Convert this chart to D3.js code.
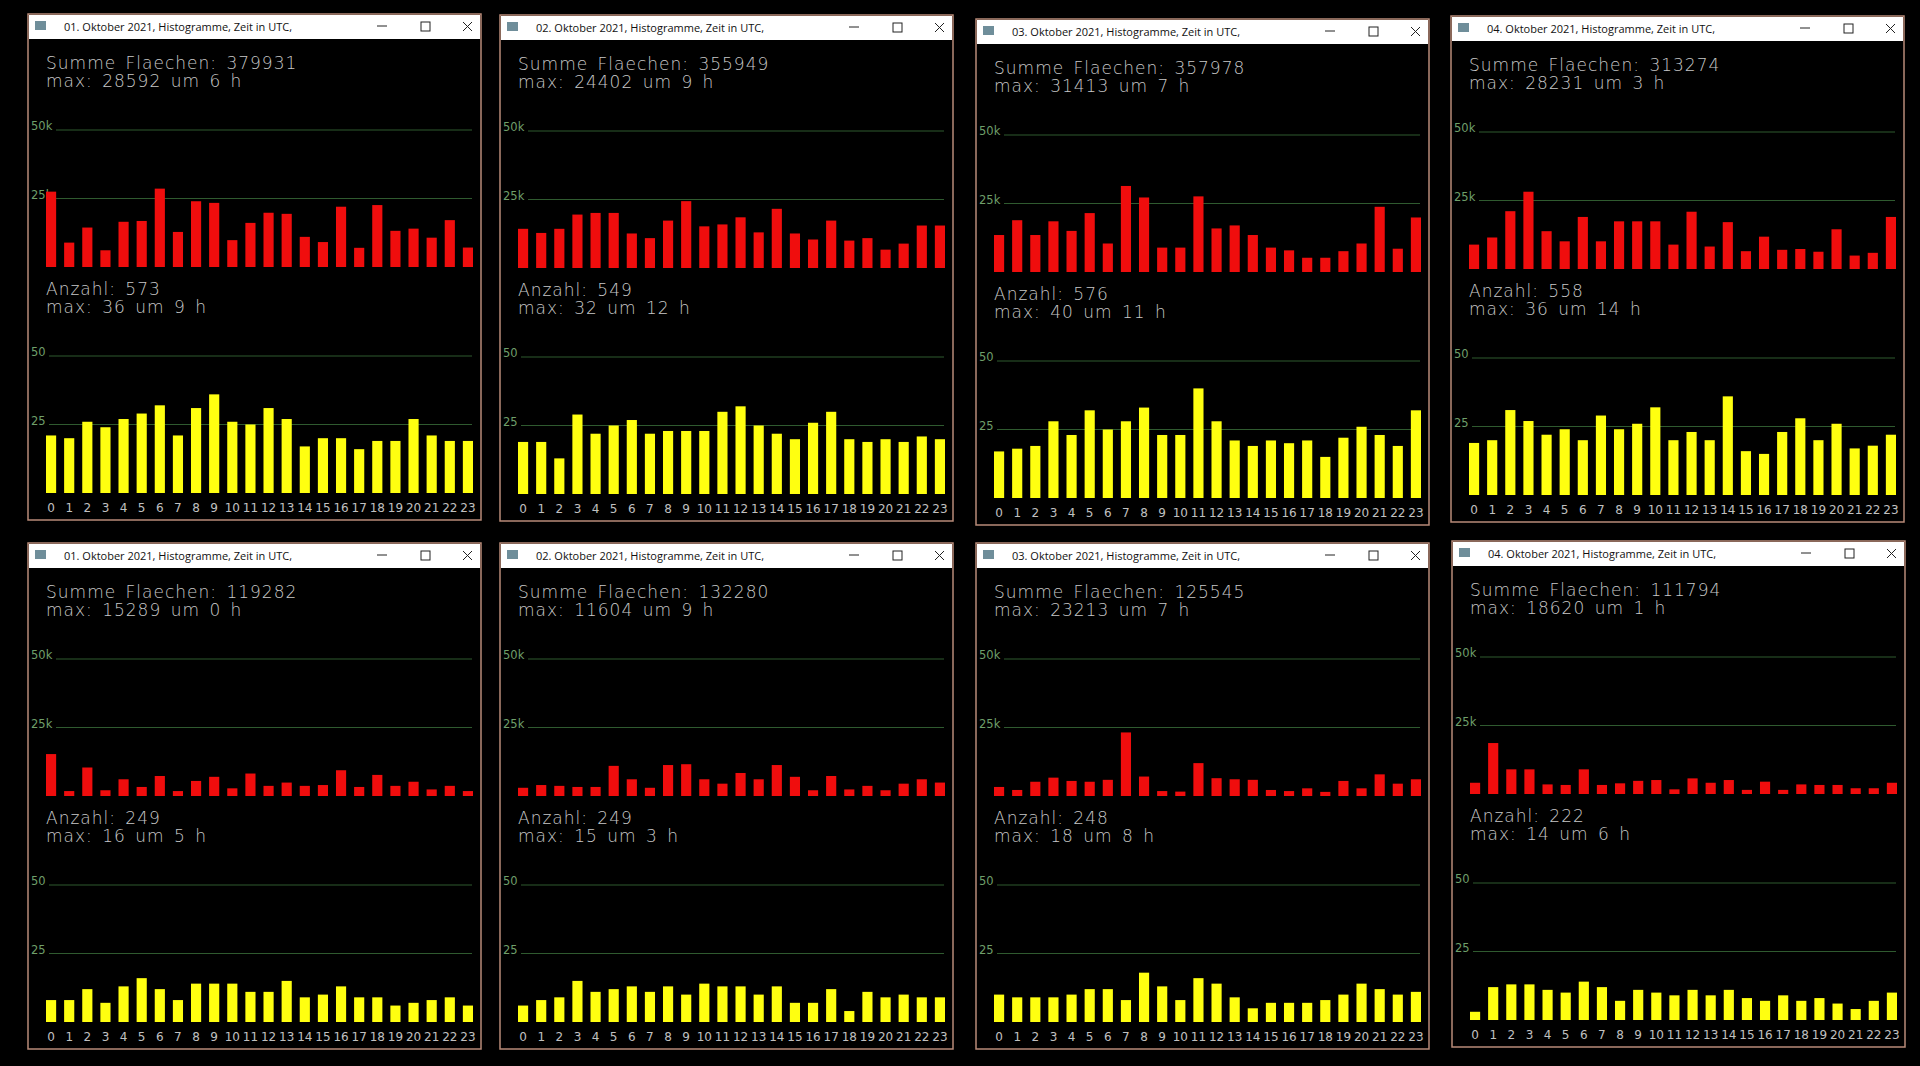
<!DOCTYPE html>
<html>
<head>
<meta charset="utf-8">
<script src="https://cdn.jsdelivr.net/npm/d3@7"></script>
<style>
  body { margin: 0; background: #000; }
  svg { display: block; }
  .title { font-family: "Open Sans", sans-serif; font-size: 11px; fill: #111; }
  .stat { font-family: "DejaVu Sans", sans-serif; font-weight: 200; font-size: 17px; fill: #c8c8c8; letter-spacing: 1px; word-spacing: 3px; }
  .grid-label { font-family: "DejaVu Sans", sans-serif; font-size: 11.5px; fill: #6f9f6a; }
  .hour { font-family: "DejaVu Sans", sans-serif; font-size: 12px; fill: #c0c0c0; }
</style>
</head>
<body>
<svg id="chart" width="1920" height="1066"></svg>
<script>
// Hours of the day
var hours = d3.range(24);

// Window titles (dates)
var titles = [
  "01. Oktober 2021, Histogramme, Zeit in UTC,",
  "02. Oktober 2021, Histogramme, Zeit in UTC,",
  "03. Oktober 2021, Histogramme, Zeit in UTC,",
  "04. Oktober 2021, Histogramme, Zeit in UTC,",
  "01. Oktober 2021, Histogramme, Zeit in UTC,",
  "02. Oktober 2021, Histogramme, Zeit in UTC,",
  "03. Oktober 2021, Histogramme, Zeit in UTC,",
  "04. Oktober 2021, Histogramme, Zeit in UTC,"
];

// Stats shown as text
var sumArea  = [379931, 355949, 357978, 313274, 119282, 132280, 125545, 111794];
var maxArea  = ["28592 um 6 h", "24402 um 9 h", "31413 um 7 h", "28231 um 3 h",
                "15289 um 0 h", "11604 um 9 h", "23213 um 7 h", "18620 um 1 h"];
var countAll = [573, 549, 576, 558, 249, 249, 248, 222];
var maxCount = ["36 um 9 h", "32 um 12 h", "40 um 11 h", "36 um 14 h",
                "16 um 5 h", "15 um 3 h", "18 um 8 h", "14 um 6 h"];

// Area per hour (in thousands)
var area1 = [27.5, 8.9, 14.4, 6.1, 16.5, 16.8, 28.6, 12.8, 24.0, 23.4, 9.8, 16.1, 19.8, 19.4, 11.0, 9.1, 22.0, 7.0, 22.6, 13.2, 14.0, 10.7, 17.1, 7.1];
var area2 = [14.3, 12.8, 14.3, 19.5, 20.1, 20.1, 12.6, 10.9, 17.3, 24.4, 15.2, 15.9, 18.5, 13.0, 21.6, 12.6, 10.4, 17.3, 10.0, 10.9, 6.7, 8.9, 15.5, 15.5];
var area3 = [13.5, 18.9, 13.5, 18.5, 15.0, 21.5, 10.4, 31.4, 27.2, 8.9, 8.9, 27.6, 15.9, 17.0, 13.5, 8.9, 7.9, 5.2, 5.2, 7.6, 10.4, 23.8, 8.5, 19.9];
var area4 = [8.9, 11.5, 21.1, 28.2, 13.8, 10.1, 19.0, 10.1, 17.4, 17.4, 17.4, 8.9, 20.9, 8.2, 17.1, 6.5, 11.8, 7.0, 7.3, 6.3, 14.5, 4.9, 5.9, 19.0];
var area5 = [15.3, 1.8, 10.4, 2.1, 6.1, 3.3, 7.3, 1.8, 5.5, 7.0, 2.8, 8.2, 3.7, 4.9, 3.7, 4.0, 9.4, 3.3, 7.7, 3.7, 5.2, 2.4, 3.7, 1.8];
var area6 = [3.0, 4.0, 3.7, 3.3, 3.3, 11.0, 6.1, 3.0, 11.3, 11.6, 6.1, 4.5, 8.4, 6.1, 11.3, 7.0, 2.1, 7.3, 2.4, 3.7, 2.1, 4.5, 6.1, 4.9];
var area7 = [3.3, 2.2, 5.2, 6.7, 5.5, 5.2, 5.9, 23.2, 7.1, 1.8, 1.6, 12.0, 6.5, 6.1, 5.9, 2.2, 1.8, 2.8, 1.5, 5.5, 2.8, 7.9, 4.5, 6.1];
var area8 = [4.1, 18.6, 9.0, 9.0, 3.5, 3.3, 9.0, 3.3, 3.9, 4.8, 5.1, 1.7, 5.7, 4.1, 5.1, 1.5, 4.5, 1.5, 3.5, 3.3, 3.3, 2.1, 2.1, 4.1];

// Count per hour
var count1 = [21, 20, 26, 24, 27, 29, 32, 21, 31, 36, 26, 25, 31, 27, 17, 20, 20, 16, 19, 19, 27, 21, 19, 19];
var count2 = [19, 19, 13, 29, 22, 25, 27, 22, 23, 23, 23, 30, 32, 25, 22, 20, 26, 30, 20, 19, 20, 19, 21, 20];
var count3 = [17, 18, 19, 28, 23, 32, 25, 28, 33, 23, 23, 40, 28, 21, 19, 21, 20, 21, 15, 22, 26, 23, 19, 32];
var count4 = [19, 20, 31, 27, 22, 24, 20, 29, 24, 26, 32, 20, 23, 20, 36, 16, 15, 23, 28, 20, 26, 17, 18, 22];
var count5 = [8, 8, 12, 7, 13, 16, 12, 8, 14, 14, 14, 11, 11, 15, 9, 10, 13, 9, 9, 6, 7, 8, 9, 6];
var count6 = [6, 8, 9, 15, 11, 12, 13, 11, 13, 10, 14, 13, 13, 10, 13, 7, 7, 12, 4, 11, 9, 10, 9, 9];
var count7 = [10, 9, 9, 9, 10, 12, 12, 8, 18, 13, 8, 16, 14, 9, 5, 7, 7, 7, 8, 10, 14, 12, 10, 11];
var count8 = [3, 12, 13, 13, 11, 10, 14, 12, 7, 11, 10, 9, 11, 9, 11, 8, 7, 9, 7, 8, 6, 4, 7, 10];

var areas  = [area1, area2, area3, area4, area5, area6, area7, area8];
var counts = [count1, count2, count3, count4, count5, count6, count7, count8];

// Window positions on screen
var winPos = [[28, 14], [500, 15], [976, 19], [1451, 16],
              [28, 543], [500, 543], [976, 543], [1452, 541]];
var winW = 453, winH = 506;

var svg = d3.select("#chart");

var x = d3.scaleBand().domain(hours).range([18, 445]).paddingInner(0.44).paddingOuter(0);
var yArea  = d3.scaleLinear().domain([0, 50]).range([253, 116]);
var yCount = d3.scaleLinear().domain([0, 50]).range([479, 342]);

titles.forEach(function(t, k) {
  var g = svg.append("g").attr("transform", "translate(" + winPos[k][0] + "," + winPos[k][1] + ")");

  // window frame
  g.append("rect").attr("width", winW).attr("height", winH).attr("fill", "#000")
   .attr("stroke", "#b88a78").attr("stroke-width", 1.5);
  g.append("rect").attr("x", 1).attr("y", 1).attr("width", winW - 2).attr("height", 24).attr("fill", "#fff");
  g.append("rect").attr("x", 7).attr("y", 7).attr("width", 11).attr("height", 9).attr("fill", "#6f8e9a");
  g.append("text").attr("class", "title").attr("x", 36).attr("y", 17).text(t);
  g.append("line").attr("x1", 349).attr("x2", 359).attr("y1", 12).attr("y2", 12).attr("stroke", "#222");
  g.append("rect").attr("x", 393).attr("y", 8).attr("width", 9).attr("height", 9).attr("fill", "none").attr("stroke", "#222");
  g.append("path").attr("d", "M435,8 L444,17 M444,8 L435,17").attr("stroke", "#222");

  // stats
  g.append("text").attr("class", "stat").attr("x", 18).attr("y", 55).text("Summe Flaechen: " + sumArea[k]);
  g.append("text").attr("class", "stat").attr("x", 18).attr("y", 73).text("max: " + maxArea[k]);
  g.append("text").attr("class", "stat").attr("x", 18).attr("y", 281).text("Anzahl: " + countAll[k]);
  g.append("text").attr("class", "stat").attr("x", 18).attr("y", 299).text("max: " + maxCount[k]);

  // grid lines
  [[yArea, 50, "50k"], [yArea, 25, "25k"], [yCount, 50, "50"], [yCount, 25, "25"]].forEach(function(gl) {
    var yy = gl[0](gl[1]);
    g.append("line").attr("x1", gl[2].length > 2 ? 28 : 21).attr("x2", 444)
     .attr("y1", yy).attr("y2", yy).attr("stroke", "#2f5a2f").attr("stroke-width", 1);
    g.append("text").attr("class", "grid-label").attr("x", 3).attr("y", yy).text(gl[2]);
  });

  // area bars
  g.selectAll(".abar").data(areas[k]).enter().append("rect")
   .attr("x", function(d, i) { return x(i); })
   .attr("width", x.bandwidth())
   .attr("y", function(d) { return yArea(d); })
   .attr("height", function(d) { return yArea(0) - yArea(d); })
   .attr("fill", "#f00d0d");

  // count bars
  g.selectAll(".cbar").data(counts[k]).enter().append("rect")
   .attr("x", function(d, i) { return x(i); })
   .attr("width", x.bandwidth())
   .attr("y", function(d) { return yCount(d); })
   .attr("height", function(d) { return yCount(0) - yCount(d); })
   .attr("fill", "#ffff10");

  // hour labels
  g.selectAll(".hour").data(hours).enter().append("text")
   .attr("class", "hour")
   .attr("x", function(d) { return x(d) + x.bandwidth() / 2; })
   .attr("y", 498)
   .attr("text-anchor", "middle")
   .text(function(d) { return d; });
});
</script>
</body>
</html>
